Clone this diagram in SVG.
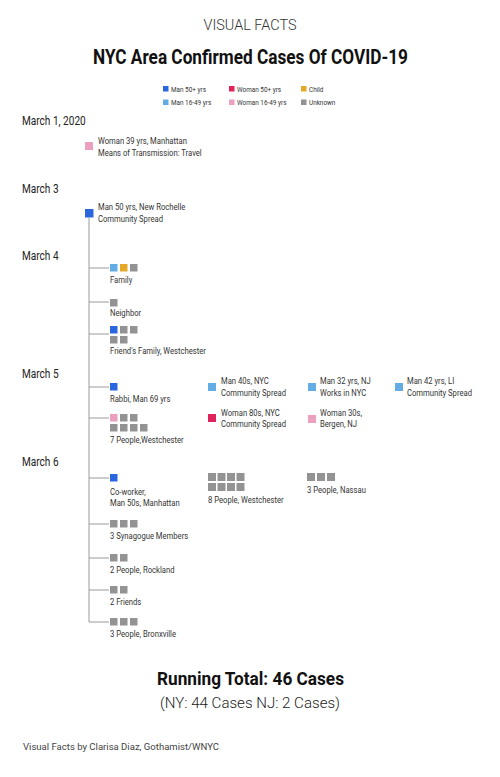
<svg xmlns="http://www.w3.org/2000/svg" width="500" height="777" viewBox="0 0 500 777">
<style>
text{font-family:Roboto,"Liberation Sans",sans-serif;fill:#333}
.d{font-size:12px;fill:#222}
.l{font-size:8.7px}
.lg{font-size:7.5px}
.g{fill:#939393}.mb{fill:#2a66dd}.ml{fill:#64ade4}.wr{fill:#e0235c}.wp{fill:#eba0c0}.ch{fill:#e5a92a}
.conn{stroke:#9a9a9a;stroke-width:1;fill:none}
</style>
<rect width="500" height="777" fill="#fff"/>
<g id="header">
<text x="250" y="30" text-anchor="middle" font-size="15" font-weight="300" textLength="93" lengthAdjust="spacingAndGlyphs">VISUAL FACTS</text>
<text x="250.5" y="64" text-anchor="middle" font-size="20" font-weight="700" textLength="315" lengthAdjust="spacingAndGlyphs" style="fill:#111">NYC Area Confirmed Cases Of COVID-19</text>
</g>
<g id="legend">
<rect class="mb" x="163" y="86" width="5.5" height="5.5"/><text class="lg" transform="translate(171 91.5) scale(.85 1)">Man 50+ yrs</text>
<rect class="wr" x="229" y="86" width="5.5" height="5.5"/><text class="lg" transform="translate(237 91.5) scale(.85 1)">Woman 50+ yrs</text>
<rect class="ch" x="301" y="86" width="5.5" height="5.5"/><text class="lg" transform="translate(309 91.5) scale(.85 1)">Child</text>
<rect class="ml" x="163" y="99.5" width="5.5" height="5.5"/><text class="lg" transform="translate(171 105) scale(.85 1)">Man 16-49 yrs</text>
<rect class="wp" x="229" y="99.5" width="5.5" height="5.5"/><text class="lg" transform="translate(237 105) scale(.85 1)">Woman 16-49 yrs</text>
<rect class="g" x="301" y="99.5" width="5.5" height="5.5"/><text class="lg" transform="translate(309 105) scale(.85 1)">Unknown</text>
</g>
<g id="dates">
<text class="d" transform="translate(22 125) scale(.84 1)">March 1, 2020</text>
<text class="d" transform="translate(22 193) scale(.84 1)">March 3</text>
<text class="d" transform="translate(22 260) scale(.84 1)">March 4</text>
<text class="d" transform="translate(22 378) scale(.84 1)">March 5</text>
<text class="d" transform="translate(22 466) scale(.84 1)">March 6</text>
</g>
<g id="connectors">
<path class="conn" d="M89 218V622H109M89 268H109M89 302H109M89 334H109M89 387H109M89 418H109M89 478H109M89 524H109M89 558H109M89 590H109"/>
</g>
<g id="n-woman39">
<rect class="wp" x="85" y="142" width="8" height="8"/>
<text class="l" transform="translate(98 144) scale(.88 1)">Woman 39 yrs, Manhattan</text>
<text class="l" transform="translate(98 156) scale(.88 1)">Means of Transmission: Travel</text>
</g>
<g id="n-man50">
<rect class="mb" x="85" y="209" width="8.5" height="8.5"/>
<text class="l" transform="translate(98 210) scale(.88 1)">Man 50 yrs, New Rochelle</text>
<text class="l" transform="translate(98 222) scale(.88 1)">Community Spread</text>
</g>
<g id="n-family">
<rect class="ml" x="110" y="264" width="7.5" height="7.5"/><rect class="ch" x="120" y="264" width="7.5" height="7.5"/><rect class="g" x="130" y="264" width="7.5" height="7.5"/>
<text class="l" transform="translate(110 283) scale(.88 1)">Family</text>
</g>
<g id="n-neighbor">
<rect class="g" x="110" y="299" width="7.5" height="7.5"/>
<text class="l" transform="translate(110 316) scale(.88 1)">Neighbor</text>
</g>
<g id="n-friends-family">
<rect class="mb" x="110" y="326" width="7.5" height="7.5"/><rect class="g" x="120" y="326" width="7.5" height="7.5"/><rect class="g" x="130" y="326" width="7.5" height="7.5"/>
<rect class="g" x="110" y="336" width="7.5" height="7.5"/><rect class="g" x="120" y="336" width="7.5" height="7.5"/>
<text class="l" transform="translate(110 354) scale(.88 1)">Friend's Family, Westchester</text>
</g>
<g id="n-rabbi">
<rect class="mb" x="110" y="383" width="7.5" height="7.5"/>
<text class="l" transform="translate(110 402) scale(.88 1)">Rabbi, Man 69 yrs</text>
</g>
<g id="n-7people">
<rect class="wp" x="110" y="414" width="7.5" height="7.5"/><rect class="g" x="120" y="414" width="7.5" height="7.5"/><rect class="g" x="130" y="414" width="7.5" height="7.5"/>
<rect class="g" x="110" y="424" width="7.5" height="7.5"/><rect class="g" x="120" y="424" width="7.5" height="7.5"/><rect class="g" x="130" y="424" width="7.5" height="7.5"/><rect class="g" x="140" y="424" width="7.5" height="7.5"/>
<text class="l" transform="translate(110 443) scale(.88 1)">7 People,Westchester</text>
</g>
<g id="n-man40s">
<rect class="ml" x="208" y="383" width="8" height="8"/>
<text class="l" transform="translate(221 384) scale(.88 1)">Man 40s, NYC</text>
<text class="l" transform="translate(221 396) scale(.88 1)">Community Spread</text>
</g>
<g id="n-man32">
<rect class="ml" x="308" y="383" width="8" height="8"/>
<text class="l" transform="translate(320 384) scale(.88 1)">Man 32 yrs, NJ</text>
<text class="l" transform="translate(320 396) scale(.88 1)">Works in NYC</text>
</g>
<g id="n-man42">
<rect class="ml" x="395" y="383" width="8" height="8"/>
<text class="l" transform="translate(407 384) scale(.88 1)">Man 42 yrs, LI</text>
<text class="l" transform="translate(407 396) scale(.88 1)">Community Spread</text>
</g>
<g id="n-woman80s">
<rect class="wr" x="208" y="414" width="8" height="8"/>
<text class="l" transform="translate(221 416) scale(.88 1)">Woman 80s, NYC</text>
<text class="l" transform="translate(221 427) scale(.88 1)">Community Spread</text>
</g>
<g id="n-woman30s">
<rect class="wp" x="308" y="415" width="8" height="8"/>
<text class="l" transform="translate(320 416) scale(.88 1)">Woman 30s,</text>
<text class="l" transform="translate(320 427) scale(.88 1)">Bergen, NJ</text>
</g>
<g id="n-coworker">
<rect class="mb" x="110" y="474" width="7.5" height="7.5"/>
<text class="l" transform="translate(110 495) scale(.88 1)">Co-worker,</text>
<text class="l" transform="translate(110 506) scale(.88 1)">Man 50s, Manhattan</text>
</g>
<g id="n-8people">
<rect class="g" x="208" y="473" width="8" height="8"/><rect class="g" x="217.5" y="473" width="8" height="8"/><rect class="g" x="227" y="473" width="8" height="8"/><rect class="g" x="236.5" y="473" width="8" height="8"/>
<rect class="g" x="208" y="483" width="8" height="8"/><rect class="g" x="217.5" y="483" width="8" height="8"/><rect class="g" x="227" y="483" width="8" height="8"/><rect class="g" x="236.5" y="483" width="8" height="8"/>
<text class="l" transform="translate(208 503) scale(.88 1)">8 People, Westchester</text>
</g>
<g id="n-nassau">
<rect class="g" x="307" y="473" width="8" height="8"/><rect class="g" x="317" y="473" width="8" height="8"/><rect class="g" x="327" y="473" width="8" height="8"/>
<text class="l" transform="translate(307 493) scale(.88 1)">3 People, Nassau</text>
</g>
<g id="n-synagogue">
<rect class="g" x="110" y="520" width="7.5" height="7.5"/><rect class="g" x="120" y="520" width="7.5" height="7.5"/><rect class="g" x="130" y="520" width="7.5" height="7.5"/>
<text class="l" transform="translate(110 539) scale(.88 1)">3 Synagogue Members</text>
</g>
<g id="n-rockland">
<rect class="g" x="110" y="554" width="7.5" height="7.5"/><rect class="g" x="120" y="554" width="7.5" height="7.5"/>
<text class="l" transform="translate(110 573) scale(.88 1)">2 People, Rockland</text>
</g>
<g id="n-2friends">
<rect class="g" x="110" y="586" width="7.5" height="7.5"/><rect class="g" x="120" y="586" width="7.5" height="7.5"/>
<text class="l" transform="translate(110 605) scale(.88 1)">2 Friends</text>
</g>
<g id="n-bronxville">
<rect class="g" x="110" y="618" width="7.5" height="7.5"/><rect class="g" x="120" y="618" width="7.5" height="7.5"/><rect class="g" x="130" y="618" width="7.5" height="7.5"/>
<text class="l" transform="translate(110 637) scale(.88 1)">3 People, Bronxville</text>
</g>
<g id="footer">
<text x="250.5" y="685" text-anchor="middle" font-size="18" font-weight="700" textLength="187" lengthAdjust="spacingAndGlyphs" style="fill:#111">Running Total: 46 Cases</text>
<text x="250" y="708" text-anchor="middle" font-size="15" font-weight="300" textLength="180" lengthAdjust="spacingAndGlyphs" style="fill:#222">(NY: 44 Cases NJ: 2 Cases)</text>
<text x="23" y="750" font-size="8.5" textLength="196" lengthAdjust="spacingAndGlyphs" style="fill:#444">Visual Facts by Clarisa Diaz, Gothamist/WNYC</text>
</g>
</svg>
